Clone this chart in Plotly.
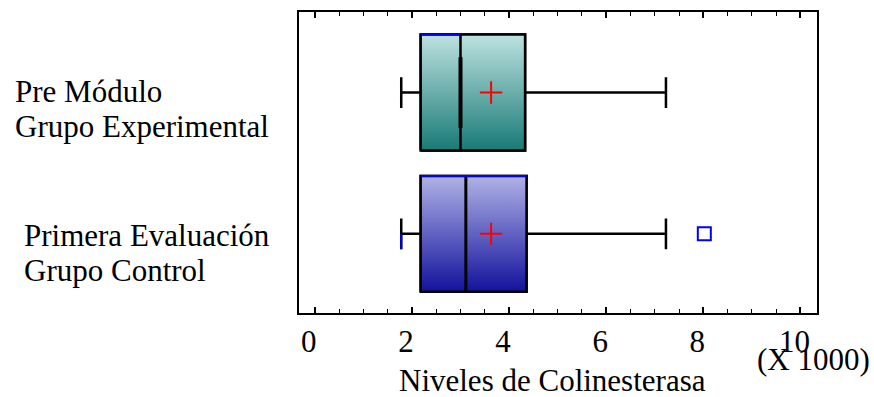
import plotly.graph_objects as go

# Niveles de colinesterasa (unidades de 1000)
positions = [1, 0]                       # 1 = arriba, 0 = abajo
label_line1 = ["Pre Módulo", "Primera Evaluación"]
label_line2 = ["Grupo Experimental", "Grupo Control"]
lower_whisker = [1.78, 1.78]
q1_vals = [2.18, 2.18]
median_vals = [3.00, 3.11]
q3_vals = [4.33, 4.36]
upper_whisker = [7.23, 7.23]
mean_vals = [3.63, 3.63]
outlier_x = [8.02]
outlier_pos = [0]
x_ticks = [0, 2, 4, 6, 8, 10]

grad_top = ["#bde2e0", "#b0b2e6"]
grad_bottom = ["#187a76", "#12129c"]
BOX_W = 0.82
HW = BOX_W / 2
WHISKER_W = 0.265
FONT = "Liberation Serif, Times New Roman, serif"
FS = 31

L, R, T, B = 299, 57, 10, 84
W, H = 874, 397
PW = W - L - R
PH = H - T - B

fig = go.Figure()

# whiskers and caps (box bodies are redrawn on top below)
for i, p in enumerate(positions):
    fig.add_trace(go.Box(
        y=[p], q1=[q1_vals[i]], median=[median_vals[i]], q3=[q3_vals[i]],
        lowerfence=[lower_whisker[i]], upperfence=[upper_whisker[i]],
        orientation="h", width=BOX_W, whiskerwidth=WHISKER_W,
        fillcolor="rgba(0,0,0,0)", line=dict(color="black", width=2.5),
        boxpoints=False, showlegend=False, hoverinfo="skip"))

for i, p in enumerate(positions):
    bx = [q1_vals[i], q3_vals[i], q3_vals[i], q1_vals[i], q1_vals[i]]
    by = [p - HW, p - HW, p + HW, p + HW, p - HW]
    # gradient-filled body
    fig.add_trace(go.Scatter(
        x=bx, y=by, mode="lines", fill="toself", line=dict(width=0),
        fillgradient=dict(type="vertical",
                          colorscale=[[0, grad_bottom[i]], [1, grad_top[i]]]),
        hoverinfo="skip", showlegend=False))
    # outline
    fig.add_trace(go.Scatter(
        x=bx, y=by, mode="lines", line=dict(color="black", width=2.5),
        hoverinfo="skip", showlegend=False))
    # median
    fig.add_trace(go.Scatter(
        x=[median_vals[i]] * 2, y=[p - HW, p + HW], mode="lines",
        line=dict(color="black", width=2.5 if i == 0 else 3),
        hoverinfo="skip", showlegend=False))

# heavier middle part of the upper median
fig.add_trace(go.Scatter(
    x=[median_vals[0]] * 2, y=[positions[0] - 0.25, positions[0] + 0.25], mode="lines",
    line=dict(color="black", width=4), hoverinfo="skip", showlegend=False))

# blue top edges
fig.add_trace(go.Scatter(x=[q1_vals[0], median_vals[0]], y=[positions[0] + HW] * 2,
                         mode="lines", line=dict(color="blue", width=2),
                         showlegend=False, hoverinfo="skip"))
fig.add_trace(go.Scatter(x=[q1_vals[1], q3_vals[1]], y=[positions[1] + HW] * 2,
                         mode="lines", line=dict(color="blue", width=2),
                         showlegend=False, hoverinfo="skip"))
# blue lower half of the lower cap in the bottom group
fig.add_trace(go.Scatter(x=[lower_whisker[1]] * 2,
                         y=[positions[1] - HW * WHISKER_W, positions[1]],
                         mode="lines", line=dict(color="blue", width=2),
                         showlegend=False, hoverinfo="skip"))

# means
fig.add_trace(go.Scatter(
    x=mean_vals, y=positions, mode="markers",
    marker=dict(symbol="cross-thin", size=16, color="red",
                line=dict(color="red", width=2)),
    showlegend=False))

# outlier
fig.add_trace(go.Scatter(
    x=outlier_x, y=outlier_pos, mode="markers",
    marker=dict(symbol="square-open", size=13, color="blue",
                line=dict(color="blue", width=2)),
    showlegend=False))

annotations = []
label_left_px = [13, 22]
line1_shift = [1, -2]
for i, p in enumerate(positions):
    xp = (label_left_px[i] - L) / PW
    annotations.append(dict(text=label_line1[i], x=xp, y=p, xref="paper", yref="y",
                            xanchor="left", yanchor="middle", yshift=line1_shift[i],
                            showarrow=False, font=dict(family=FONT, size=FS, color="black")))
    annotations.append(dict(text=label_line2[i], x=xp, y=p, xref="paper", yref="y",
                            xanchor="left", yanchor="middle", yshift=line1_shift[i] - 35,
                            showarrow=False, font=dict(family=FONT, size=FS, color="black")))

annotations.append(dict(text="Niveles de Colinesterasa", x=(552 - L) / PW,
                        y=-(381 - (H - B)) / PH,
                        xref="paper", yref="paper", xanchor="center", yanchor="middle",
                        showarrow=False, font=dict(family=FONT, size=FS, color="black")))
annotations.append(dict(text="(X 1000)", x=(813 - L) / PW, y=-(360 - (H - B)) / PH,
                        xref="paper", yref="paper", xanchor="center", yanchor="middle",
                        showarrow=False, font=dict(family=FONT, size=FS, color="black")))

fig.update_layout(
    width=W, height=H,
    margin=dict(l=L, r=R, t=T, b=B),
    paper_bgcolor="white", plot_bgcolor="white",
    showlegend=False,
    annotations=annotations,
    xaxis=dict(range=[-0.325, 10.34], tickvals=x_ticks, ticks="inside", ticklen=6,
               tickwidth=1.5, tickcolor="black", showline=True, linewidth=2,
               linecolor="black", mirror="allticks", showgrid=False, zeroline=False,
               minor=dict(dtick=0.5, ticks="inside", ticklen=4, tickwidth=1.2,
                          tickcolor="black", showgrid=False),
               tickfont=dict(family=FONT, size=FS, color="black"),
               ticklabelshift=-6),
    yaxis=dict(range=[-0.56, 1.57], showticklabels=False, ticks="", showline=True,
               linewidth=2, linecolor="black", mirror=True, showgrid=False,
               zeroline=False),
)

fig.write_html("out.html")
